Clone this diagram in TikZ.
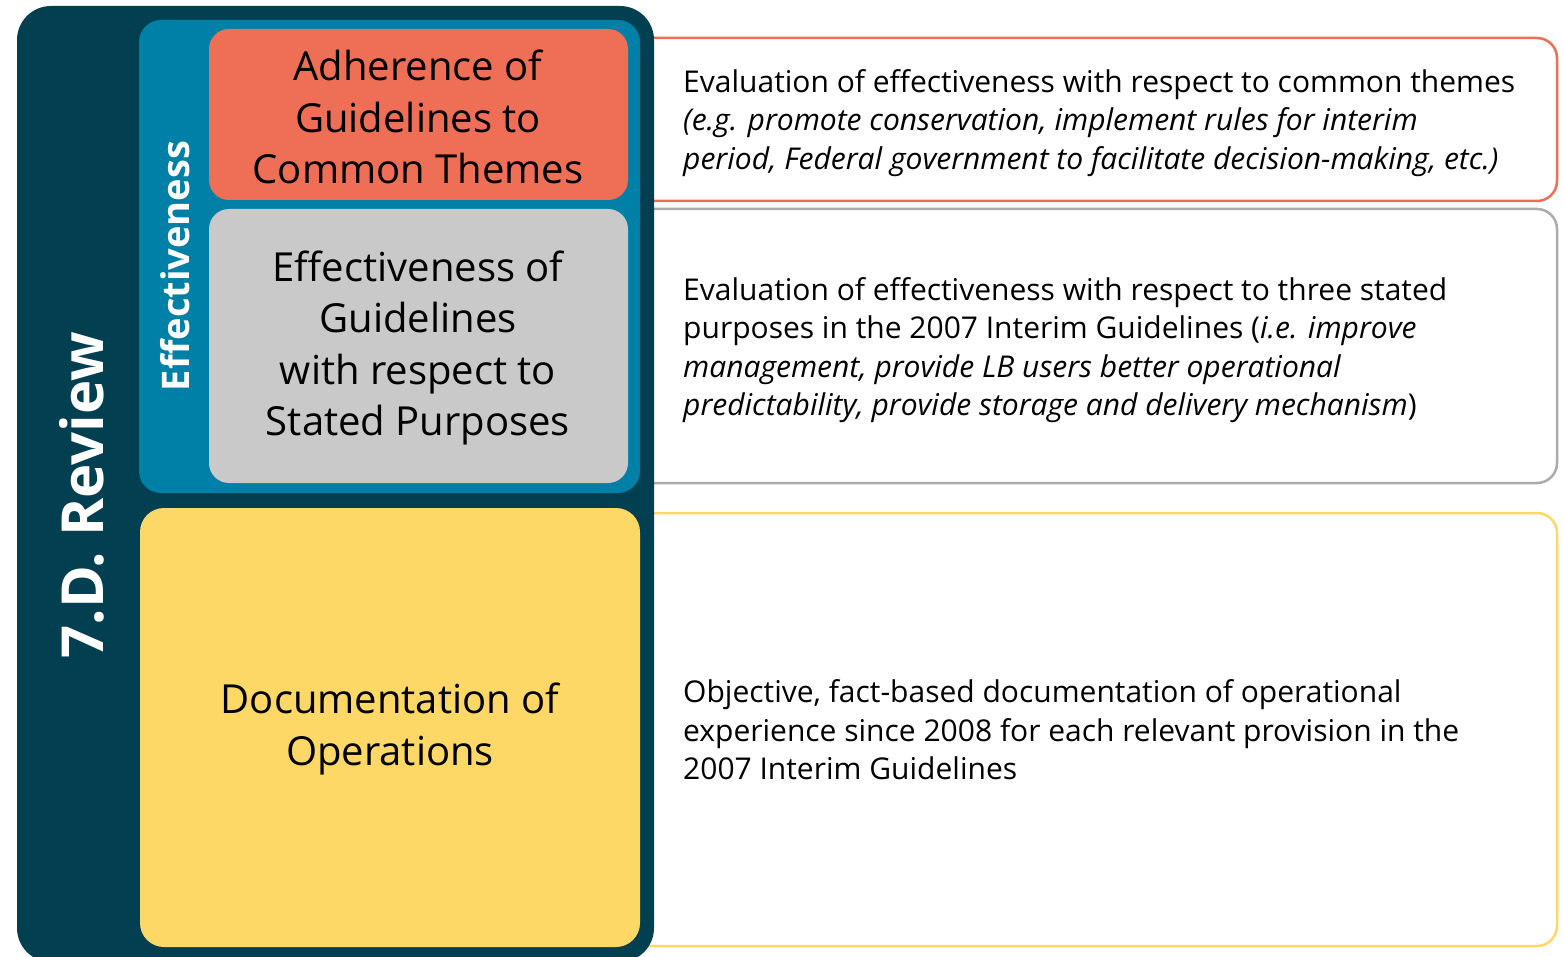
\documentclass[tikz,border=0pt]{standalone}
\usepackage{fontspec}
\setmainfont{Open Sans}
\definecolor{darkpanel}{HTML}{023F51}
\definecolor{tealpanel}{HTML}{0080A6}
\definecolor{orangebox}{HTML}{EE6F55}
\definecolor{greybox}{HTML}{C9C9C9}
\definecolor{yellowbox}{HTML}{FDD867}
\definecolor{greyline}{HTML}{ABABAB}
\tikzset{
  boxtext/.style={align=center,font=\fontsize{40}{51.5}\selectfont,text=black,inner sep=0pt},
  desctext/.style={align=left,anchor=west,font=\fontsize{30}{38.5}\selectfont,text=black,inner sep=0pt},
  descbox/.style={line width=2.5pt,rounded corners=20pt,fill=white},
}
\begin{document}
\begin{tikzpicture}[x=1pt,y=-1pt]
\useasboundingbox (0,0) rectangle (1563,957);
% right description boxes (left side hidden under dark panel)
\draw[descbox,draw=orangebox] (600,38) rectangle (1557,201);
\draw[descbox,draw=greyline] (600,209) rectangle (1557,483);
\draw[descbox,draw=yellowbox] (600,513) rectangle (1557,946);
% dark panel
\fill[darkpanel,rounded corners=34pt] (17,6) rectangle (654,962);
% teal panel
\fill[tealpanel,rounded corners=22pt] (139,20) rectangle (640,493);
% inner boxes
\fill[orangebox,rounded corners=20pt] (209,29) rectangle (628,200);
\fill[greybox,rounded corners=20pt] (209,209) rectangle (628,483);
\fill[yellowbox,rounded corners=24pt] (140,508) rectangle (640,947);
% vertical labels
\node[rotate=90,text=white,font=\bfseries\fontsize{58}{62}\selectfont,inner sep=0pt] (review) at (82,495) {7.D. Review};
\node[rotate=90,text=white,font=\bfseries\fontsize{38}{40}\selectfont,inner sep=0pt] (eff) at (175,266) {Effectiveness};
% box texts
\node[boxtext] (adh) at (418,117) {Adherence of\\Guidelines to\\Common Themes};
\node[boxtext] (effg) at (418,348) {Effectiveness of\\Guidelines\\with respect to\\Stated Purposes};
\node[boxtext] (doc) at (390,729) {Documentation of\\Operations};
% descriptions
\node[desctext] (d1) at (683,123) {Evaluation of effectiveness with respect to common themes\\\textit{(e.g. promote conservation, implement rules for interim}\\\textit{period, Federal government to facilitate decision-making, etc.)}};
\node[desctext] (d2) at (683,350) {Evaluation of effectiveness with respect to three stated\\purposes in the 2007 Interim Guidelines (\textit{i.e. improve}\\\textit{management, provide LB users better operational}\\\textit{predictability, provide storage and delivery mechanism})};
\node[desctext] (d3) at (683,730) {Objective, fact-based documentation of operational\\experience since 2008 for each relevant provision in the\\2007 Interim Guidelines};
\end{tikzpicture}
\end{document}
